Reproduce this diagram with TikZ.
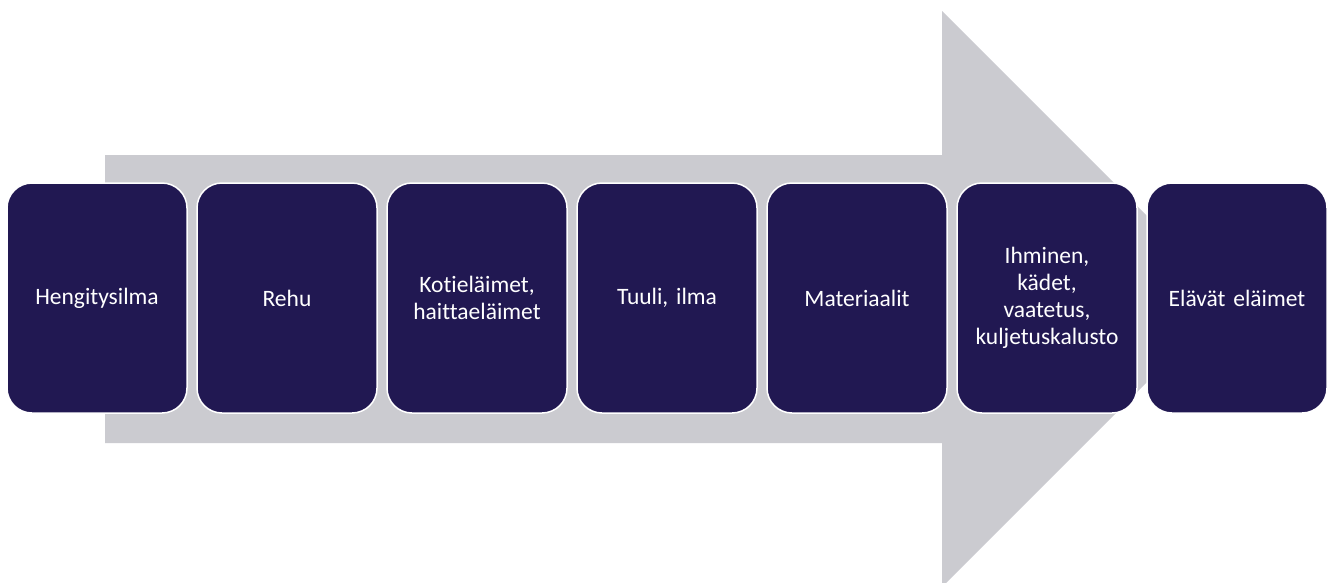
\documentclass[tikz,border=0pt]{standalone}
\usepackage{fontspec}
\setmainfont{Carlito}[Ligatures=NoCommon]
\frenchspacing
\definecolor{navy}{RGB}{33,24,82}
\definecolor{arrowgray}{RGB}{203,203,208}
\begin{document}
\begin{tikzpicture}[x=1pt,y=-1pt,every node/.style={draw=white,line width=1.5pt,fill=navy,text=white,rounded corners=25pt,minimum width=180pt,minimum height=230pt,text width=172pt,align=center,inner sep=0pt,font=\fontsize{23.5}{27}\selectfont}]
\useasboundingbox (0,0) rectangle (1335,582);
\fill[arrowgray] (105,155) -- (942,155) -- (942,11) -- (1230,299) -- (942,587) -- (942,443) -- (105,443) -- cycle;

\foreach \n/\v in {1/Hengitysilma,2/Rehu,3/{Kotieläimet,\\haittaeläimet},4/{Tuuli, ilma},5/Materiaalit,6/{Ihminen,\\kädet,\\vaatetus,\\kuljetuskalusto},7/Elävät eläimet}
\node (b\n) at (97+190*\n-190,298) {\v};
\end{tikzpicture}
\end{document}
